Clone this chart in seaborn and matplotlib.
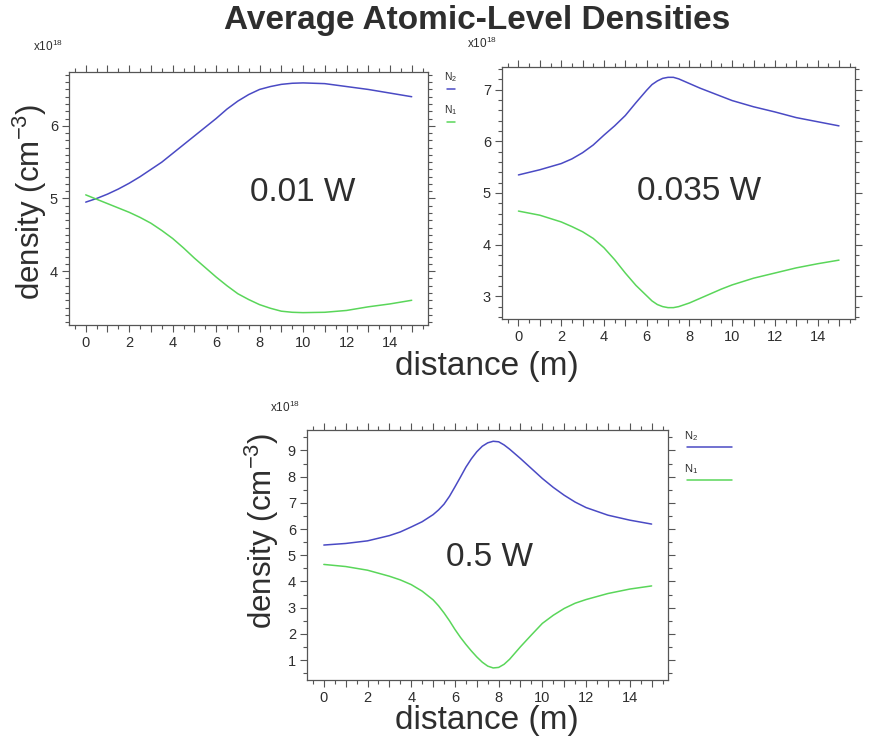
import numpy as np
import pandas as pd
import matplotlib
matplotlib.use("Agg")
import matplotlib.pyplot as plt
from matplotlib.ticker import MultipleLocator, FuncFormatter
from matplotlib.lines import Line2D
import seaborn as sns

# ---- data (densities in units of 1e18 cm^-3) ----
dist_a = [0, 0.5, 1, 1.5, 2, 2.5, 3, 3.5, 4, 4.5, 5, 5.5, 6, 6.5, 7, 7.5, 8, 8.5, 9, 9.5,
          10, 11, 12, 13, 14, 15]
n2_a = [4.95, 5.00, 5.06, 5.13, 5.21, 5.30, 5.40, 5.50, 5.62, 5.74, 5.86, 5.98, 6.10, 6.23,
        6.34, 6.43, 6.50, 6.54, 6.57, 6.585, 6.59, 6.58, 6.54, 6.50, 6.45, 6.40]
n1_a = [5.05, 4.99, 4.93, 4.87, 4.81, 4.74, 4.66, 4.56, 4.45, 4.32, 4.18, 4.05, 3.92, 3.80,
        3.69, 3.61, 3.54, 3.49, 3.45, 3.435, 3.43, 3.435, 3.46, 3.51, 3.55, 3.60]

dist_b = [0, 1, 2, 2.5, 3, 3.5, 4, 4.5, 5, 5.5, 6, 6.25, 6.5, 6.75, 7, 7.25, 7.5, 8, 8.5, 9,
          9.5, 10, 11, 12, 13, 14, 15]
n2_b = [5.35, 5.45, 5.57, 5.66, 5.78, 5.93, 6.12, 6.30, 6.50, 6.75, 6.99, 7.10, 7.17, 7.22,
        7.24, 7.24, 7.21, 7.12, 7.03, 6.95, 6.87, 6.79, 6.67, 6.57, 6.46, 6.38, 6.30]
n1_b = [4.65, 4.57, 4.44, 4.35, 4.25, 4.12, 3.94, 3.71, 3.45, 3.21, 3.01, 2.91, 2.84, 2.80,
        2.78, 2.78, 2.80, 2.87, 2.96, 3.05, 3.14, 3.22, 3.35, 3.45, 3.55, 3.63, 3.70]

dist_c = [0, 1, 2, 3, 3.5, 4, 4.5, 5, 5.25, 5.5, 5.75, 6, 6.25, 6.5, 6.75, 7, 7.25, 7.5, 7.75,
          8, 8.25, 8.5, 9, 9.5, 10, 10.5, 11, 11.5, 12, 13, 14, 15]
n2_c = [5.39, 5.45, 5.55, 5.75, 5.89, 6.08, 6.28, 6.55, 6.73, 6.95, 7.25, 7.61, 7.98, 8.36,
        8.68, 8.95, 9.16, 9.29, 9.35, 9.33, 9.21, 9.05, 8.69, 8.31, 7.93, 7.59, 7.29, 7.03,
        6.82, 6.53, 6.34, 6.19]
n1_c = [4.65, 4.57, 4.43, 4.20, 4.06, 3.88, 3.63, 3.30, 3.07, 2.80, 2.50, 2.17, 1.87, 1.60,
        1.35, 1.12, 0.92, 0.77, 0.70, 0.72, 0.84, 1.03, 1.51, 1.96, 2.40, 2.71, 2.97, 3.17,
        3.31, 3.54, 3.71, 3.83]

powers = ["0.01 W", "0.035 W", "0.5 W"]
species = ["N$_2$", "N$_1$"]
colors = {"N$_2$": "#4a4ac4", "N$_1$": "#5ad65a"}

TEXT = "#2e2e2e"
SPINE = "#555555"

sns.set_theme(style="white")
plt.rcParams["font.family"] = ["Liberation Sans", "DejaVu Sans"]
plt.rcParams["mathtext.fontset"] = "custom"
plt.rcParams["mathtext.rm"] = "Liberation Sans"
plt.rcParams["mathtext.it"] = "Liberation Sans:italic"
plt.rcParams["mathtext.bf"] = "Liberation Sans:bold"

W, H = 870, 744
fig = plt.figure(figsize=(W / 100, H / 100), dpi=100)
fig.patch.set_facecolor("white")


def box(left, top, right, bottom):
    return [left / W, 1 - bottom / H, (right - left) / W, (bottom - top) / H]


def frame(d, n2, n1):
    rows = []
    for x, a, b in zip(d, n2, n1):
        rows.append({"distance": x, "density": a, "level": species[0]})
        rows.append({"distance": x, "density": b, "level": species[1]})
    return pd.DataFrame(rows)


def style_axes(ax, ylim, yminor):
    ax.set_xlim(-0.77, 15.75)
    ax.set_ylim(*ylim)
    ax.xaxis.set_major_locator(MultipleLocator(1))
    ax.xaxis.set_minor_locator(MultipleLocator(0.5))
    ax.xaxis.set_major_formatter(FuncFormatter(
        lambda v, p: f"{int(round(v))}" if int(round(v)) % 2 == 0 else ""))
    ax.yaxis.set_major_locator(MultipleLocator(1))
    ax.yaxis.set_minor_locator(MultipleLocator(yminor))
    ax.yaxis.set_major_formatter(FuncFormatter(lambda v, p: f"{int(round(v))}"))
    ax.tick_params(which="both", direction="out", top=True, right=True, bottom=True, left=True,
                   labeltop=False, labelright=False, color=SPINE, width=0.8)
    ax.tick_params(which="major", length=5, labelsize=10.5, labelcolor=TEXT, pad=3)
    ax.tick_params(which="minor", length=3)
    for s in ax.spines.values():
        s.set_color(SPINE)
        s.set_linewidth(0.9)
    ax.set_xlabel("")
    ax.set_ylabel("")


panels = [
    (box(69, 72, 428, 325), frame(dist_a, n2_a, n1_a), (3.26, 6.74), 0.1, (10.0, 5.08)),
    (box(502, 67, 855, 319), frame(dist_b, n2_b, n1_b), (2.56, 7.44), 0.2, (8.43, 5.02)),
    (box(307, 430, 668, 680), frame(dist_c, n2_c, n1_c), (0.24, 9.78), 0.5, (7.58, 4.9)),
]

for i, (rect, df, ylim, yminor, tpos) in enumerate(panels):
    ax = fig.add_axes(rect)
    sns.lineplot(data=df, x="distance", y="density", hue="level", palette=colors,
                 hue_order=species, linewidth=1.1, legend=False, ax=ax, sort=True)
    style_axes(ax, ylim, yminor)
    ax.text(tpos[0], tpos[1], powers[i], fontsize=24, color=TEXT, ha="center", va="center")

# exponent markers above each panel
fig.text(33 / W, 1 - 46 / H, "x10$^{18}$", fontsize=8.5, color=TEXT, va="center")
fig.text(467 / W, 1 - 43 / H, "x10$^{18}$", fontsize=8.5, color=TEXT, va="center")
fig.text(270 / W, 1 - 407 / H, "x10$^{18}$", fontsize=8.5, color=TEXT, va="center")


# legend keys to the right of panels
def legend_key(x0, x1, ytext, yline, label, color, fs=8):
    fig.text(x0 / W, 1 - ytext / H, label, fontsize=fs, color=TEXT, va="center", ha="left")
    fig.add_artist(Line2D([x0 / W + 0.003, x1 / W], [1 - yline / H, 1 - yline / H],
                          color=color, linewidth=1.1, transform=fig.transFigure))


legend_key(444, 455, 77, 89, species[0], colors[species[0]], fs=7.5)
legend_key(444, 455, 110, 122, species[1], colors[species[1]], fs=7.5)
legend_key(684, 732, 436, 447, species[0], colors[species[0]])
legend_key(684, 732, 469, 480, species[1], colors[species[1]])

# shared labels
fig.text(477 / W, 1 - 21 / H, "Average Atomic-Level Densities", fontsize=24,
         fontweight="bold", color=TEXT, ha="center", va="center")
fig.text(30 / W, 1 - 202 / H, "density (cm$^{-3}$)", fontsize=22.5, color=TEXT,
         rotation=90, ha="center", va="center")
fig.text(262 / W, 1 - 531 / H, "density (cm$^{-3}$)", fontsize=22.5, color=TEXT,
         rotation=90, ha="center", va="center")
fig.text(487 / W, 1 - 367 / H, "distance (m)", fontsize=24, color=TEXT, ha="center", va="center")
fig.text(487 / W, 1 - 721 / H, "distance (m)", fontsize=24, color=TEXT, ha="center", va="center")

fig.savefig("out.png", dpi=100, facecolor="white")
